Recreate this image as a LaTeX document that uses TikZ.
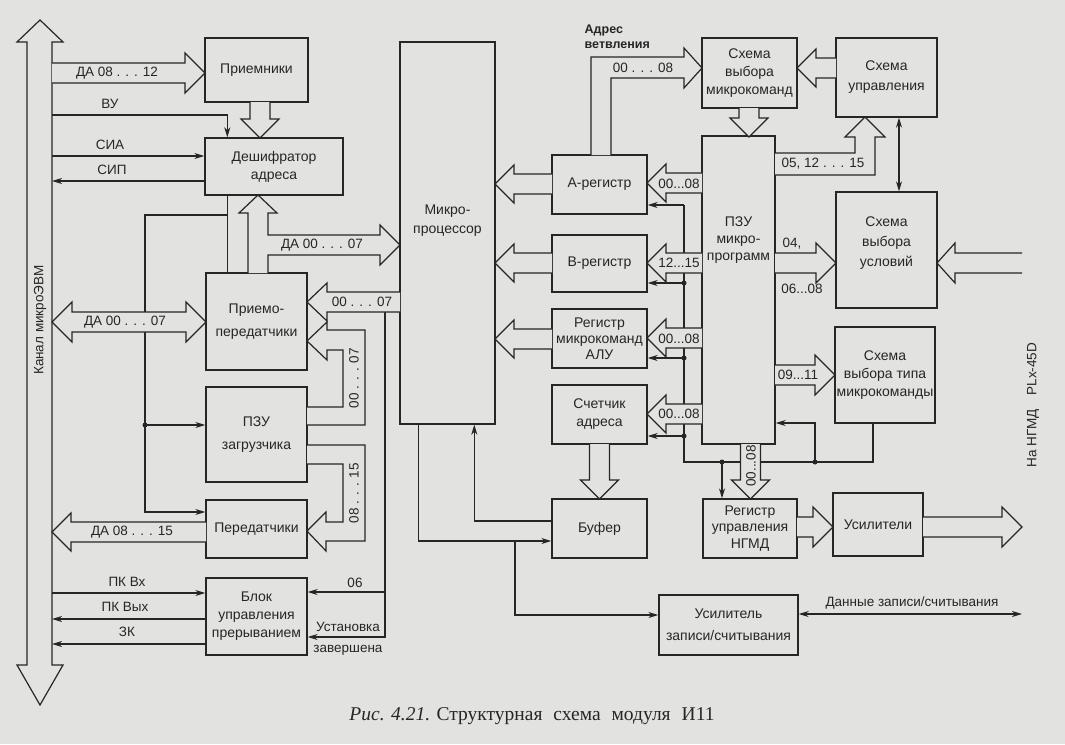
\documentclass[tikz,border=0pt]{standalone}
\usepackage{fontspec}
\setmainfont{Liberation Sans}
\newfontfamily\capfont{Liberation Serif}
\usetikzlibrary{arrows.meta,calc}

\definecolor{paper}{RGB}{226,226,224}
\definecolor{ink}{RGB}{38,38,38}

% hollow bus arrows: {from}{tip}{centre line}
\newcommand{\busright}[3]{\draw[bus] (#1,#3-10) -- (#2-20,#3-10) -- (#2-20,#3-20) -- (#2,#3) -- (#2-20,#3+20) -- (#2-20,#3+10) -- (#1,#3+10);}
\newcommand{\busleft}[3]{\draw[bus] (#1,#3-10) -- (#2+19,#3-10) -- (#2+19,#3-19) -- (#2,#3) -- (#2+19,#3+19) -- (#2+19,#3+10) -- (#1,#3+10);}
\newcommand{\busdown}[3]{\draw[bus] (#3-10,#1) -- (#3-10,#2-19) -- (#3-19,#2-19) -- (#3,#2) -- (#3+19,#2-19) -- (#3+10,#2-19) -- (#3+10,#1);}

\begin{document}
\begin{tikzpicture}[x=1pt,y=-1pt,line join=miter,
blk/.style={draw=ink,line width=1.4pt,inner sep=1pt,align=center,text=ink,font=\fontsize{14}{18}\selectfont},
lab/.style={text=ink,inner sep=0.5pt,align=center,font=\fontsize{13.5}{15}\selectfont},
nlab/.style={lab,fill=paper},
wire/.style={draw=ink,line width=1.1pt},
sig/.style={wire,-{Stealth[length=10pt,width=6pt,inset=3pt]}},
dbl/.style={wire,{Stealth[length=10pt,width=6pt,inset=3pt]}-{Stealth[length=10pt,width=6pt,inset=3pt]}},
bus/.style={draw=ink,line width=1.2pt,fill=paper},
dot/.style={circle,fill=ink,inner sep=0pt,minimum size=5pt}]

\fill[paper] (0,0) rectangle (1065,744);
\useasboundingbox (0,0) rectangle (1065,744);

% channel
\draw[bus] (27,665) -- (27,42) -- (17,42) -- (40,20) -- (63,42) -- (52,42) -- (52,665) -- (63,665) -- (40,705) -- (17,665) -- cycle;
\node[lab,rotate=90] (kanal) at (40,320) {Канал микроЭВМ};
\coordinate (busr) at (52,0);

% blocks
\node[blk,minimum width=103pt,minimum height=64pt] (pri) at (256.5,70) {Приемники};
\node[blk,minimum width=138pt,minimum height=57pt] (dsh) at (274,166.5) {Дешифратор\\адреса};
\node[blk,minimum width=101pt,minimum height=97pt] (ppd) at (256.5,321.5) {Приемо-\\[5pt]передатчики};
\node[blk,minimum width=101pt,minimum height=95pt] (pzz) at (256.5,434.5) {ПЗУ\\[5pt]загрузчика};
\node[blk,minimum width=101pt,minimum height=58pt] (prd) at (256.5,529) {Передатчики};
\node[blk,minimum width=101pt,minimum height=77pt] (bup) at (256.5,616.5) {Блок\\управления\\прерыванием};
\node[blk,minimum width=95pt,minimum height=382pt] (mp) at (447.5,233) {};
\node[lab,font=\fontsize{14}{19}\selectfont] (mptxt) at (447.5,221) {Микро-\\процессор};
\node[blk,minimum width=95pt,minimum height=59pt] (areg) at (599.5,184.5) {А-регистр};
\node[blk,minimum width=95pt,minimum height=57pt] (breg) at (599.5,263.5) {В-регистр};
\node[blk,minimum width=95pt,minimum height=59pt,font=\fontsize{14}{16}\selectfont] (alu) at (599.5,338.5) {Регистр\\микрокоманд\\АЛУ};
\node[blk,minimum width=95pt,minimum height=59pt] (sch) at (599.5,414.5) {Счетчик\\адреса};
\node[blk,minimum width=95pt,minimum height=59pt] (buf) at (599.5,528.5) {Буфер};
\node[blk,minimum width=73pt,minimum height=308pt] (pzm) at (738.5,290) {};
\node[lab,font=\fontsize{14}{17}\selectfont] (pzmtxt) at (738.5,240) {ПЗУ\\микро-\\программ};
\node[blk,minimum width=95pt,minimum height=70pt] (svm) at (749.5,73) {Схема\\выбора\\микрокоманд};
\node[blk,minimum width=101pt,minimum height=79pt] (sup) at (886.5,77.5) {Схема\\[2pt]управления};
\node[blk,minimum width=101pt,minimum height=116pt] (svu) at (886.5,250) {};
\node[lab,font=\fontsize{14}{20}\selectfont] (svutxt) at (886.5,243) {Схема\\выбора\\условий};
\node[blk,minimum width=100pt,minimum height=96pt] (svt) at (885,375) {Схема\\выбора типа\\микрокоманды};
\node[blk,minimum width=94pt,minimum height=59pt,font=\fontsize{14}{16.5}\selectfont] (rgu) at (750,528.5) {Регистр\\управления\\НГМД};
\node[blk,minimum width=90pt,minimum height=63pt] (usl) at (878,524.5) {Усилители};
\node[blk,minimum width=139pt,minimum height=60pt] (uzs) at (728.5,625) {Усилитель\\[4pt]записи/считывания};

% single lines
\draw[sig] (busr |- 0,115) -| ($(dsh.north west)+(23,0)$);
\draw[sig] (busr |- 0,156) -- (dsh.west |- 0,156);
\draw[sig] (dsh.west |- 0,181) -- (busr |- 0,181);
\draw[wire] ($(dsh.south west)+(23,0)$) -- ($(ppd.north west)+(22,0)$);
\draw[sig] (228,215) -- (145,215) -- (145,512) -- (prd.west |- 0,512);
\draw[sig] (145,425) -- (pzz.west |- 0,425);
\node[dot] (d1) at (145,425) {};
\draw[sig] (busr |- 0,593) -- (bup.west |- 0,593);
\draw[sig] (bup.west |- 0,619) -- (busr |- 0,619);
\draw[sig] (bup.west |- 0,644) -- (busr |- 0,644);
\draw[sig] (385,312) |- (bup.east |- 0,637);
\draw[sig] (385,592) -- (bup.east |- 0,592);
\draw[sig] ($(mp.south west)+(19,0)$) |- (buf.west |- 0,541);
\draw[sig] (515,541) |- (uzs.west |- 0,615);
\draw[sig] (buf.west |- 0,521) -| ($(mp.south west)+(75,0)$);
\draw[wire] (svt.south -| 873,0) -- (873,462) -- (684,462) -- (684,205);
\draw[sig] (684,205) -- (areg.east |- 0,205);
\draw[sig] (684,283) -- (breg.east |- 0,283);
\draw[sig] (684,358) -- (alu.east |- 0,358);
\draw[sig] (684,436) -- (sch.east |- 0,436);
\draw[sig] (815,462) |- (pzm.east |- 0,423);
\draw[sig] (722,462) -- (rgu.north -| 722,0);
\node[dot] (d2) at (684,283) {};
\node[dot] (d3) at (684,358) {};
\node[dot] (d4) at (684,436) {};
\node[dot] (d5) at (722,462) {};
\node[dot] (d6) at (815,462) {};
\draw[dbl] (sup.south -| 899,0) -- (svu.north -| 899,0);
\coordinate (dout) at (1022,614);
\draw[dbl] (uzs.east |- dout) -- (dout);

% buses
\busright{52}{205}{73}
\busdown{102}{138}{260}
\draw[bus] (248,273) -- (248,213) -- (239,213) -- (258,195) -- (277,213) -- (268,213) -- (268,235) -- (380,235) -- (380,225) -- (400,245) -- (380,265) -- (380,255) -- (268,255) -- (268,273);
\draw[bus] (52,322) -- (72,302) -- (72,312) -- (186,312) -- (186,302) -- (206,322) -- (186,342) -- (186,332) -- (72,332) -- (72,342) -- cycle;
\draw[bus] (400,292) -- (327,292) -- (327,283) -- (307,302) -- (327,321) -- (327,312) -- (400,312);
\draw[bus] (307,407) -- (343,407) -- (343,350) -- (327,350) -- (327,360) -- (307,341) -- (327,322) -- (327,330) -- (365,330) -- (365,425) -- (307,425);
\draw[bus] (307,445) -- (365,445) -- (365,541) -- (326,541) -- (326,551) -- (307,531) -- (326,512) -- (326,522) -- (343,522) -- (343,464) -- (307,464);
\busleft{206}{52}{532}
\busleft{552}{495}{184}
\busleft{552}{495}{263}
\busleft{552}{495}{339}
\busdown{444}{499}{599.5}
\draw[bus] (591,155) -- (591,57) -- (684,57) -- (684,48) -- (702,68) -- (684,88) -- (684,78) -- (611,78) -- (611,155);
\busleft{702}{647}{183}
\busleft{702}{647}{263}
\busleft{702}{647}{338}
\busleft{702}{647}{414}
\busdown{108}{137}{749}
\busleft{836}{797}{68}
\draw[bus] (775,153) -- (855,153) -- (855,137) -- (845,137) -- (865,117) -- (885,137) -- (875,137) -- (875,175) -- (775,175);
\busright{775}{836}{263}
\draw[bus] (1022,253) -- (955,253) -- (955,243) -- (937,263) -- (955,283) -- (955,273) -- (1022,273);
\busright{775}{835}{375}
\busdown{444}{499}{750.5}
\busright{797}{833}{527}
\busright{923}{1022}{527}

% labels
\node[lab] (lda1) at (117,73) {ДА 08 . . . 12};
\node[lab] (lvu) at (110,104) {ВУ};
\node[lab] (lsia) at (110,145) {СИА};
\node[lab] (lsip) at (112,170) {СИП};
\node[lab] (lda2) at (322,245) {ДА 00 . . . 07};
\node[lab] (lda3) at (125,322) {ДА 00 . . . 07};
\node[lab] (l0007) at (362,302) {00 . . . 07};
\node[lab,rotate=90] (l0007b) at (354,378) {00 . . . 07};
\node[lab,rotate=90] (l0815) at (354,493) {08 . . . 15};
\node[lab] (lda4) at (132,532) {ДА 08 . . . 15};
\node[lab] (lpkvx) at (127,582) {ПК Вх};
\node[lab] (lpkvy) at (125,607) {ПК Вых};
\node[lab] (lzk) at (127,632) {ЗК};
\node[lab] (l06) at (355,583) {06};
\node[lab,font=\fontsize{13.5}{21}\selectfont] (lust) at (348,639) {Установка\\завершена};
\node[lab,anchor=west,font=\bfseries\fontsize{12.5}{15}\selectfont] (ladr) at (584,30) {Адрес};
\node[lab,anchor=west,font=\bfseries\fontsize{12.5}{15}\selectfont] (lvetv) at (584,45) {ветвления};
\node[lab] (l0008a) at (643,68) {00 . . . 08};
\node[nlab] (l0008b) at (679,184) {00...08};
\node[nlab] (l1215) at (679,263) {12...15};
\node[nlab] (l0008c) at (679,339) {00...08};
\node[nlab] (l0008d) at (679,414) {00...08};
\node[lab] (l0512) at (823,164) {05, 12 . . . 15};
\node[lab] (l04) at (792,244) {04,};
\node[lab] (l0608) at (802,289) {06...08};
\node[nlab] (l0911) at (798,375) {09...11};
\node[nlab,rotate=90] (l0008e) at (751,466) {00...08};
\node[lab,font=\fontsize{13.5}{15}\selectfont] (ldata) at (912,603) {Данные записи/считывания};
\node[lab,rotate=90] (lngmd) at (1033,405) {На НГМД\quad PLx-45D};
\node[lab,font=\capfont\fontsize{19.5}{22}\selectfont] (cap) at (532,716) {\textit{Рис. 4.21.} Структурная\hspace{11pt}схема\hspace{11pt}модуля\hspace{11pt}И11};
\end{tikzpicture}
\end{document}
